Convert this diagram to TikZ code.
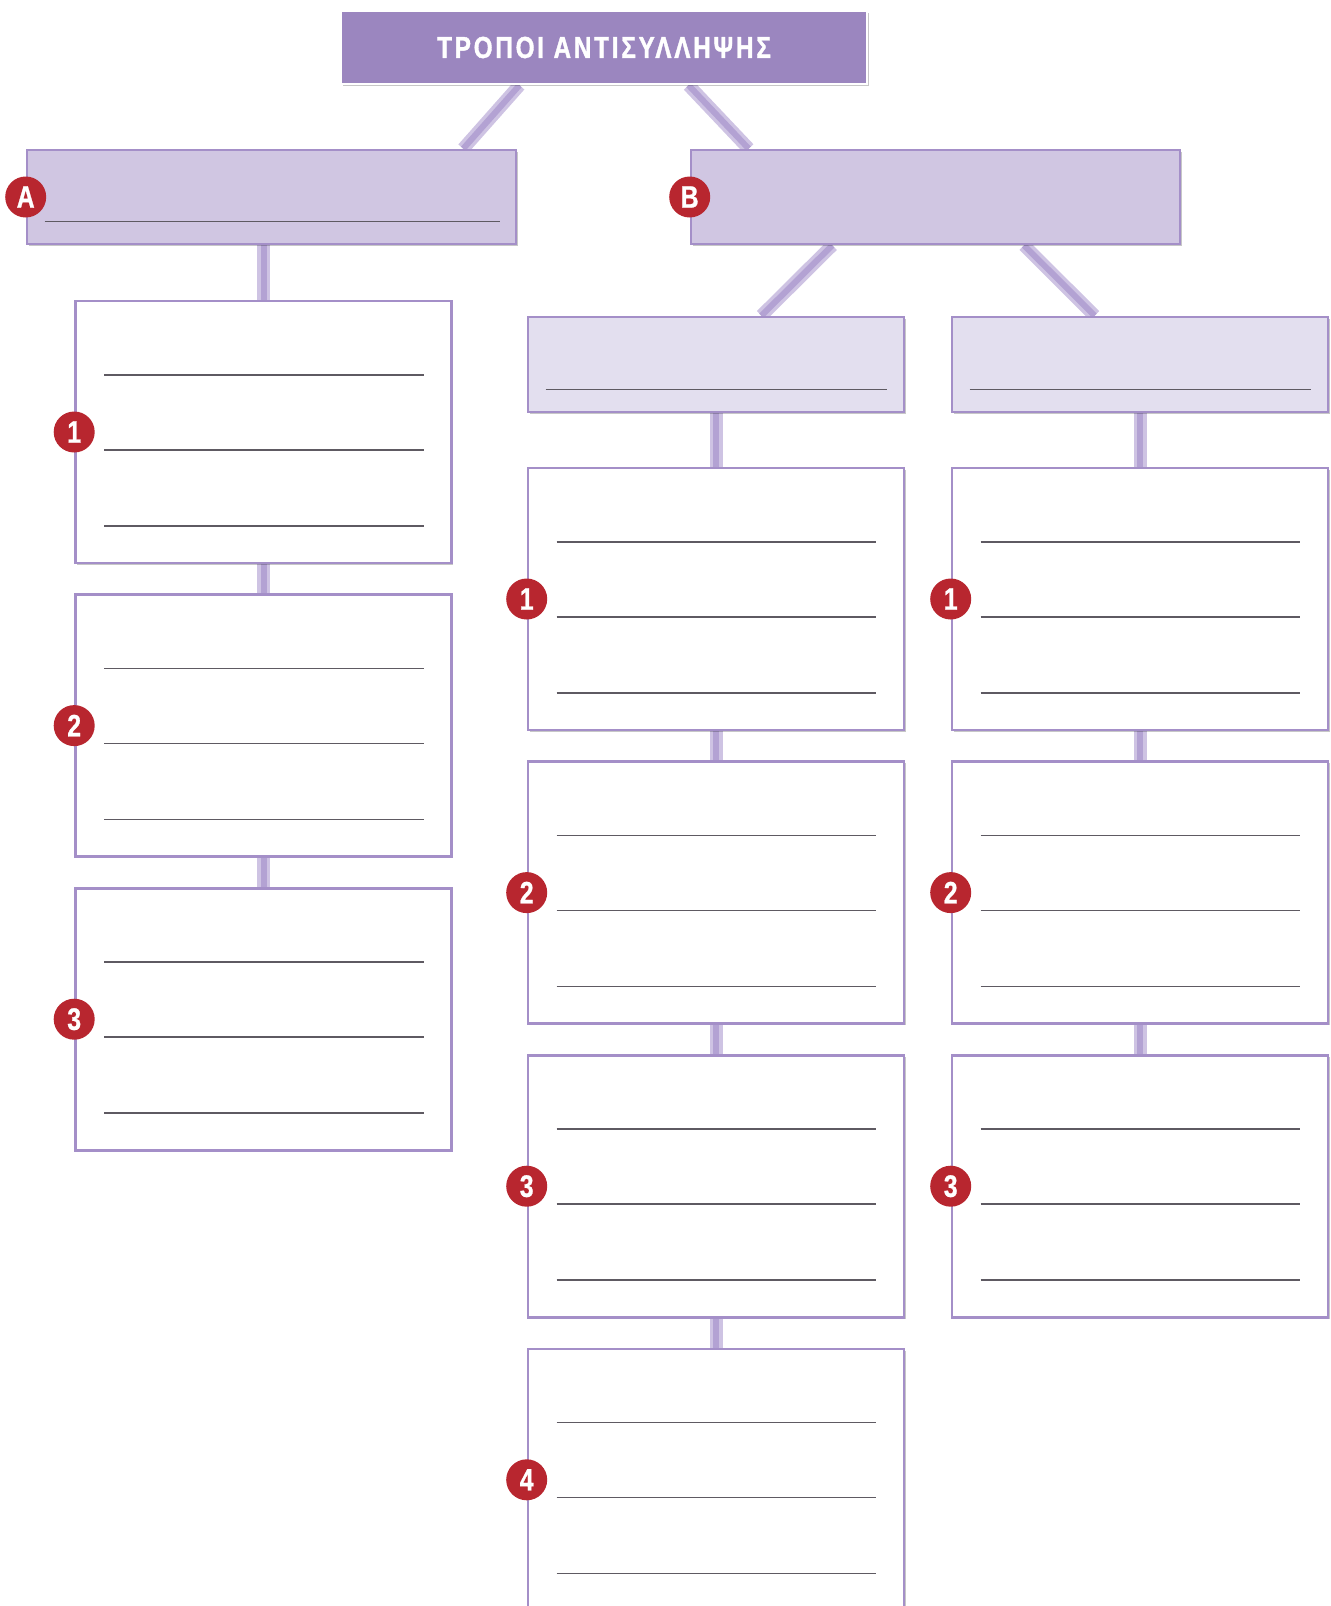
\documentclass[tikz,border=0pt]{standalone}
\usepackage{fontspec}
\setmainfont{Liberation Sans}
\newfontfamily\titlefont[FakeStretch=0.8,LetterSpace=9,FakeBold=1.2]{Liberation Sans Bold}
\newfontfamily\badgefont[FakeStretch=0.8,FakeBold=0.8]{Liberation Sans Bold}
\usepackage{tikz}
\usetikzlibrary{positioning,calc,shadows}
\pgfdeclarelayer{background}
\pgfsetlayers{background,main}

\definecolor{titlefill}{HTML}{9B86BF}
\definecolor{groupfill}{HTML}{D0C6E2}
\definecolor{subfill}{HTML}{E3DFEF}
\definecolor{boxborder}{HTML}{A48FC8}
\definecolor{badgered}{HTML}{B8262F}
\definecolor{connfill}{HTML}{CEC3E3}
\definecolor{connmid}{HTML}{B3A2D3}
\definecolor{rulegray}{HTML}{5E5A62}

\begin{document}
\begin{tikzpicture}[
    x=0.5pt, y=-0.5pt,
    softshadow/.style={drop shadow={shadow xshift=0.9pt, shadow yshift=-0.9pt, opacity=0.22, fill=black}},
    heading/.style={draw=white, line width=1.2pt, fill=titlefill, minimum width=263pt, minimum height=36.5pt, text=white, font=\titlefont\fontsize{15.2}{17}\selectfont, softshadow},
    group/.style={draw=boxborder, line width=1.3pt, fill=groupfill, minimum width=244.5pt, minimum height=47pt, softshadow},
    subgroup/.style={draw=boxborder, line width=1.3pt, fill=subfill, minimum width=188pt, minimum height=47.5pt, softshadow},
    slot/.style={draw=boxborder, line width=1.3pt, fill=white, minimum width=188pt, minimum height=131pt, softshadow},
    badge/.style={circle, fill=badgered, text=white, minimum size=20.5pt, inner sep=0pt, font=\badgefont\fontsize{15.5}{15.5}\selectfont},
    conn/.style={line width=3pt, draw=connmid, preaction={draw=connfill, line width=6.5pt}},
    rule/.style={line width=0.8pt, draw=rulegray}
]
    \useasboundingbox (0,0) rectangle (1331,1606);

    % Title and the two groups
    \node[heading] (title) at (604,47.5) {ΤΡΟΠΟΙ ΑΝΤΙΣΥΛΛΗΨΗΣ};
    \node[group] (A) at (271.5,197) {};
    \node[group] (B) at (935.5,197) {};
    \node[subgroup] (B1) at (716,364.5) {};
    \node[subgroup] (B2) at (1140,364.5) {};

    % Left column
    \node[slot] (A1) at (263.5,432) {};
    \node[slot, below=14.5pt of A1] (A2) {};
    \node[slot, below=14.5pt of A2] (A3) {};

    % Middle column
    \node[slot] (B11) at (716,599) {};
    \node[slot, below=14.5pt of B11] (B12) {};
    \node[slot, below=14.5pt of B12] (B13) {};
    \node[slot, below=14.5pt of B13] (B14) {};

    % Right column
    \node[slot] (B21) at (1140,599) {};
    \node[slot, below=14.5pt of B21] (B22) {};
    \node[slot, below=14.5pt of B22] (B23) {};

    % Connectors
    \begin{pgfonlayer}{background}
        \draw[conn] ($(title.south west)!0.34!(title.south east)$) -- ($(A.north west)!0.89!(A.north east)$);
        \draw[conn] ($(title.south west)!0.66!(title.south east)$) -- ($(B.north west)!0.12!(B.north east)$);
        \draw[conn] ($(B.south west)!0.29!(B.south east)$) -- ($(B1.north west)!0.62!(B1.north east)$);
        \draw[conn] ($(B.south west)!0.68!(B.south east)$) -- ($(B2.north west)!0.38!(B2.north east)$);
        \draw[conn] (A1.north) -- (A1.north |- A.south);
        \draw[conn] (B11.north) -- (B11.north |- B1.south);
        \draw[conn] (B21.north) -- (B21.north |- B2.south);
        \foreach \a/\b in {A1/A2, A2/A3, B11/B12, B12/B13, B13/B14, B21/B22, B22/B23}
            \draw[conn] (\a.south) -- (\b.north);
    \end{pgfonlayer}

    % Writing lines
    \draw[rule] ($(A.south west)+(19,-24)$) -- ($(A.south east)+(-17,-24)$);
    \draw[rule] ($(B1.south west)+(19,-24)$) -- ($(B1.south east)+(-18,-24)$);
    \draw[rule] ($(B2.south west)+(19,-24)$) -- ($(B2.south east)+(-18,-24)$);
    \foreach \n in {A1,A2,A3,B11,B12,B13,B14,B21,B22,B23}
        \foreach \d in {75,150,226}
            \draw[rule] ($(\n.north west)+(30,\d)$) -- ($(\n.north east)+(-29,\d)$);

    % Badges
    \node[badge] (badge-A) at (A.west) {A};
    \node[badge] (badge-B) at (B.west) {B};
    \foreach \n/\t in {A1/1, A2/2, A3/3, B11/1, B12/2, B13/3, B14/4, B21/1, B22/2, B23/3}
        \node[badge] (badge-\n) at (\n.west) {\t};
\end{tikzpicture}
\end{document}
